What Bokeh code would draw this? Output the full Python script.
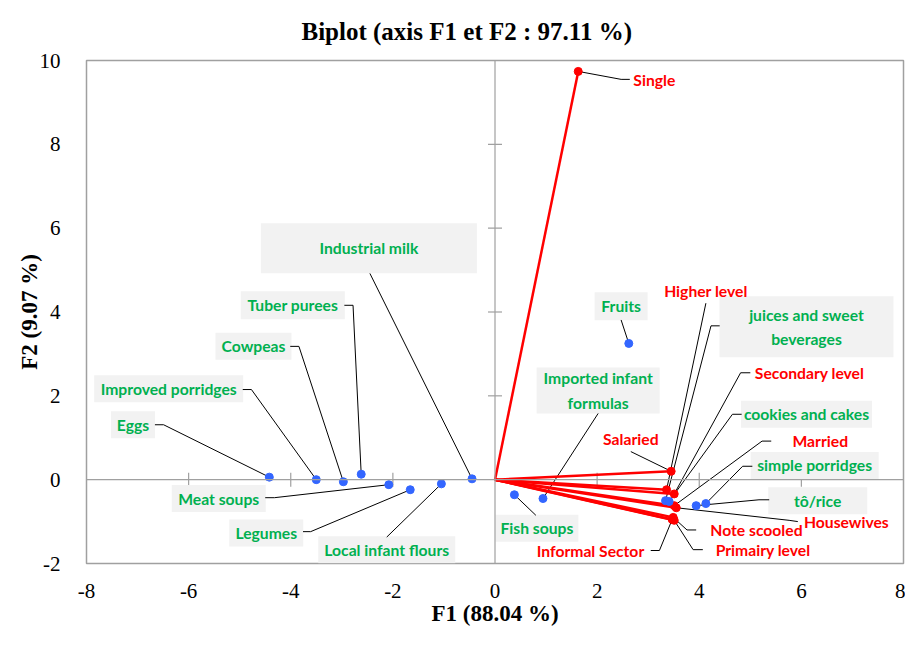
from math import pi
from bokeh.plotting import figure
from bokeh.models import Range1d, FixedTicker, Span
from bokeh.core.properties import value
from bokeh.embed import file_html
from bokeh.resources import INLINE

# ---- data: food variables (blue points) ----
food_names = ["Eggs", "Improved porridges", "Cowpeas", "Tuber purees", "Meat soups",
              "Legumes", "Local infant flours", "Industrial milk", "Fish soups",
              "Imported infant\nformulas", "Fruits", "juices and sweet\nbeverages",
              "cookies and cakes", "tô/rice", "simple porridges"]
food_f1 = [-4.42, -3.50, -2.97, -2.62, -2.08, -1.66, -1.05, -0.45, 0.38, 0.94, 2.62, 3.34, 3.41, 3.94, 4.13]
food_f2 = [0.06, 0.00, -0.05, 0.13, -0.12, -0.24, -0.10, 0.02, -0.36, -0.45, 3.25, -0.50, -0.52, -0.62, -0.57]

# ---- data: socio-demographic variables (red vectors) ----
socio_names = ["Single", "Salaried", "Higher level", "Secondary level", "Married",
               "Housewives", "Note scooled", "Primairy level", "Informal Sector"]
socio_f1 = [1.63, 3.45, 3.36, 3.51, 3.51, 3.55, 3.49, 3.51, 3.47]
socio_f2 = [9.74, 0.20, -0.24, -0.34, -0.62, -0.67, -0.90, -0.97, -0.95]

x_ticks = [-8, -6, -4, -2, 0, 2, 4, 6, 8]
y_ticks = [-2, 0, 2, 4, 6, 8, 10]
inner_x_ticks = [-6, -4, -2, 2, 4, 6]
inner_y_ticks = [2, 4, 6, 8]

# ---- label layout (data coordinates of label centres, box sizes in px) ----
food_lab_x = [-7.09, -6.39, -4.73, -3.96, -5.41, -4.48, -2.12, -2.47, 0.82, 2.02, 2.47, 6.10, 6.10, 6.32, 6.26]
food_lab_y = [1.31, 2.17, 3.18, 4.16, -0.45, -1.27, -1.67, 5.52, -1.16, 2.13, 4.14, 3.65, 1.56, -0.50, 0.34]
food_box_w = [44, 149, 76, 104, 94, 74, 137, 216, 83, 123, 53, 174, 131, 99, 128]
food_box_h = [27, 27, 27, 28, 27, 27, 27, 50, 27, 46, 28, 61, 27, 27, 27]
food_leaders = [
    [(-6.49, 1.31), (-6.66, 1.31)],
    [(-4.77, 2.15), (-4.94, 2.15)],
    [(-3.84, 3.18), (-4.01, 3.18)],
    [(-2.78, 4.16), (-2.95, 4.16)],
    [(-4.32, -0.43), (-4.50, -0.43)],
    [(-3.61, -1.24), (-3.76, -1.24)],
    [(-2.12, -1.37)],
    [(-2.45, 4.92)],
    [(0.80, -0.85)],
    [(2.02, 1.58)],
    [(2.47, 3.81)],
    [(4.23, 3.67), (4.40, 3.67)],
    [(4.65, 1.56), (4.83, 1.56)],
    [(5.17, -0.48), (5.37, -0.48)],
    [(4.85, 0.32), (5.04, 0.32)],
]

socio_lab_x = [3.12, 2.66, 4.13, 6.16, 6.37, 6.88, 5.12, 5.25, 1.87]
socio_lab_y = [9.53, 0.98, 4.51, 2.55, 0.92, -1.02, -1.20, -1.67, -1.69]
socio_leaders = [
    [(2.47, 9.55), (2.64, 9.55)],
    [(2.66, 0.67)],
    [(4.13, 4.21)],
    [(4.81, 2.55), (5.00, 2.55)],
    [(5.23, 0.92), (5.41, 0.92)],
    [(5.76, -0.97), (5.93, -1.00)],
    [(3.76, -1.20), (3.94, -1.20)],
    [(3.88, -1.67), (4.07, -1.67)],
    [(3.22, -1.69), (3.05, -1.69)],
]

GREEN = "#00b050"
RED = "#ff0000"
BLUE = "#3366ff"
GRAY = "#a0a0a0"
BOX = "#f2f2f2"
LABEL_FONT = value("Lato")
LABEL_SIZE = "15.7px"

p = figure(width=905, height=629, output_backend="svg", toolbar_location=None,
           x_range=Range1d(-8, 8), y_range=Range1d(-2, 10),
           min_border_left=86, min_border_right=2, min_border_top=59, min_border_bottom=66,
           title="Biplot (axis F1 et F2 : 97.11 %)")
p.background_fill_color = "white"
p.border_fill_color = "white"
p.outline_line_color = GRAY
p.outline_line_width = 1.5
p.grid.visible = False

p.title.text_font = "Liberation Serif"
p.title.text_font_style = "bold"
p.title.text_font_size = "25px"
p.title.text_color = "black"
p.title.align = "left"
p.title.offset = 215
p.title.standoff = 31

for ax, ticks in ((p.xaxis, x_ticks), (p.yaxis, y_ticks)):
    ax.ticker = FixedTicker(ticks=ticks)
    ax.major_label_overrides = {t: str(t) for t in ticks}
    ax.axis_line_color = None
    ax.major_tick_line_color = None
    ax.minor_tick_line_color = None
    ax.major_label_text_font = "Liberation Serif"
    ax.major_label_text_font_size = "21px"
    ax.major_label_text_color = "black"
    ax.axis_label_text_font = "Liberation Serif"
    ax.axis_label_text_font_style = "bold"
    ax.axis_label_text_font_size = "23px"
    ax.axis_label_text_color = "black"
p.xaxis.axis_label = "F1 (88.04 %)"
p.yaxis.axis_label = "F2 (9.07 %)"
p.xaxis.major_label_standoff = 14
p.yaxis.major_label_standoff = 20
p.xaxis.axis_label_standoff = 0
p.yaxis.axis_label_standoff = -5
p.yaxis.major_label_orientation = "horizontal"

# zero axes with crossing tick marks
p.add_layout(Span(location=0, dimension="width", line_color=GRAY, line_width=1.2))
p.add_layout(Span(location=0, dimension="height", line_color=GRAY, line_width=1.2))
p.scatter(x=inner_x_ticks, y=[0] * len(inner_x_ticks), marker="dash", size=14,
          angle=pi / 2, line_color=GRAY, line_width=1.2)
p.scatter(x=[0] * len(inner_y_ticks), y=inner_y_ticks, marker="dash", size=14,
          line_color=GRAY, line_width=1.2)

# label boxes
p.rect(x=food_lab_x, y=food_lab_y, width=food_box_w, height=food_box_h,
       width_units="screen", height_units="screen", fill_color=BOX, line_color=None)

# leader lines
lx, ly = [], []
for fx, fy, pts in zip(food_f1, food_f2, food_leaders):
    lx.append([fx] + [q[0] for q in pts])
    ly.append([fy] + [q[1] for q in pts])
for sx, sy, pts in zip(socio_f1, socio_f2, socio_leaders):
    lx.append([sx] + [q[0] for q in pts])
    ly.append([sy] + [q[1] for q in pts])
p.multi_line(xs=lx, ys=ly, line_color="black", line_width=1)

# red vectors
p.segment(x0=[0] * len(socio_f1), y0=[0] * len(socio_f1), x1=socio_f1, y1=socio_f2,
          line_color=RED, line_width=2.5)
p.scatter(x=socio_f1, y=socio_f2, size=8, fill_color=RED, line_color=RED)

# blue points
p.scatter(x=food_f1, y=food_f2, size=8, fill_color=BLUE, line_color=BLUE)

# texts
p.text(x=food_lab_x, y=food_lab_y, text=food_names, text_align="center",
       text_baseline="middle", text_font=LABEL_FONT, text_font_style="bold",
       text_font_size=LABEL_SIZE, text_color=GREEN, text_line_height=1.35)
p.text(x=socio_lab_x, y=socio_lab_y, text=socio_names, text_align="center",
       text_baseline="middle", text_font=LABEL_FONT, text_font_style="bold",
       text_font_size=LABEL_SIZE, text_color=RED)

open("out.html", "w").write(file_html(p, INLINE))
